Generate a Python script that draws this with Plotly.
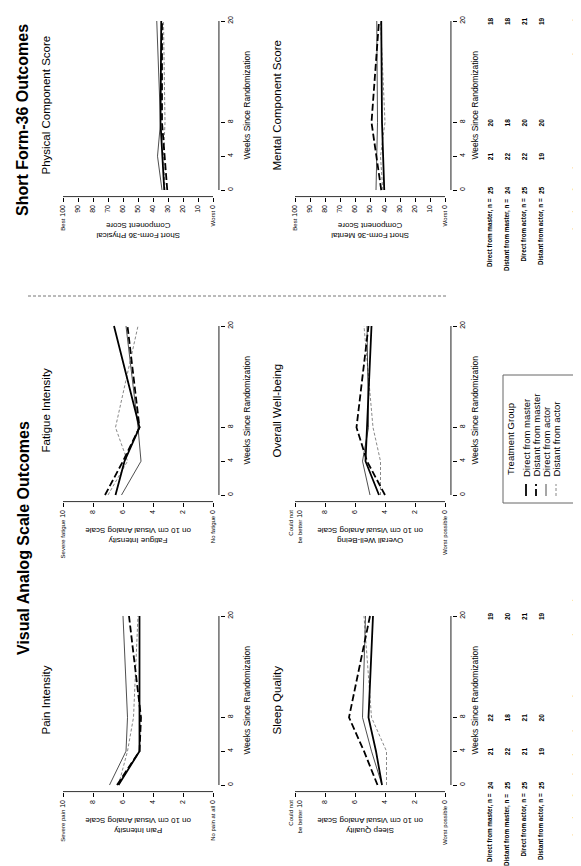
import plotly.graph_objects as go

W, H = 581, 866
FONT = "Liberation Sans, Arial, sans-serif"
NARROW = "Liberation Sans Narrow, Arial Narrow, Liberation Sans, sans-serif"

# ---------------- data ----------------
weeks = [0, 4, 8, 20]
group_names = ["Direct from master", "Distant from master", "Direct from actor", "Distant from actor"]

# scores per group (order of group_names), at weeks 0, 4, 8, 20
physical_scores = [[32.5, 34, 35, 34.5], [30.5, 32.5, 34, 34], [34, 37, 35, 37.5], [32, 33, 32, 33]]
mental_scores = [[40.5, 41.5, 42, 42.5], [42.5, 46, 49, 44], [46, 45.5, 45, 45.5], [41.5, 43, 40, 43]]
fatigue_scores = [[6.5, 5.9, 4.9, 6.6], [7.2, 6.0, 4.9, 5.7], [6.1, 4.8, 5.0, 5.8], [7.0, 5.7, 6.5, 5.0]]
wellbeing_scores = [[4.4, 5.3, 5.2, 4.9], [4.0, 5.2, 5.9, 5.1], [5.0, 5.5, 5.1, 5.2], [4.3, 4.3, 4.8, 5.4]]
pain_scores = [[6.3, 4.9, 4.9, 4.9], [6.4, 4.9, 4.8, 5.6], [6.9, 5.8, 5.7, 6.0], [6.3, 5.7, 5.3, 5.0]]
sleep_scores = [[4.2, 4.6, 5.1, 4.8], [4.5, 5.4, 6.4, 5.0], [4.2, 4.9, 5.5, 5.3], [3.9, 3.9, 4.9, 5.4]]

vas_n = [[24, 21, 22, 19], [25, 22, 18, 20], [25, 21, 21, 21], [25, 19, 20, 19]]
sf36_n = [[25, 21, 20, 18], [24, 22, 18, 18], [25, 22, 20, 21], [25, 19, 20, 19]]

sf_ticks = [100, 90, 80, 70, 60, 50, 40, 30, 20, 10, 0]
vas_ticks = [10, 8, 6, 4, 2, 0]

styles = [
    dict(color="black", width=1.8, dash="solid"),
    dict(color="black", width=1.8, dash="7px,3px"),
    dict(color="#222222", width=0.8, dash="solid"),
    dict(color="#6a6a6a", width=0.8, dash="3px,2px"),
]

def px(x):
    return x / W

def py(y):
    return 1 - y / H

def small(s):
    return "<span style='font-size:6px'>" + s + "</span>"

# column x extents (pixels) and row y extents (pixels)
cols = {"L": (48.25, 211.75), "R": (280.25, 443.75)}
rows = {"SF": (6.24, 189.2), "MID": (311.24, 494.2), "BOT": (601.24, 784.2)}
col_title_x = {"L": 38, "R": 269}
col_weeks_title_x = {"L": 239, "R": 467}

panels = [
    dict(title="Physical Component Score", ytitle="Short Form-36 Physical<br>Component Score",
         data=physical_scores, kind="sf", col="L", row="SF", top="Best", bottom="Worst"),
    dict(title="Mental Component Score", ytitle="Short Form-36 Mental<br>Component Score",
         data=mental_scores, kind="sf", col="R", row="SF", top="Best", bottom="Worst"),
    dict(title="Fatigue Intensity", ytitle="Fatigue Intensity<br>on 10 cm Visual Analog Scale",
         data=fatigue_scores, kind="vas", col="L", row="MID", top="Severe fatigue", bottom="No fatigue"),
    dict(title="Overall Well-being", ytitle="Overall Well-Being<br>on 10 cm Visual Analog Scale",
         data=wellbeing_scores, kind="vas", col="R", row="MID", top="Could not<br>be better", bottom="Worst possible"),
    dict(title="Pain Intensity", ytitle="Pain Intensity<br>on 10 cm Visual Analog Scale",
         data=pain_scores, kind="vas", col="L", row="BOT", top="Severe pain", bottom="No pain at all"),
    dict(title="Sleep Quality", ytitle="Sleep Quality<br>on 10 cm Visual Analog Scale",
         data=sleep_scores, kind="vas", col="R", row="BOT", top="Could not<br>be better", bottom="Worst possible"),
]

fig = go.Figure()
layout = dict(
    width=W, height=H, autosize=False,
    margin=dict(l=0, r=0, t=0, b=0),
    paper_bgcolor="white", plot_bgcolor="white",
    showlegend=False,
    font=dict(family=FONT, color="black"),
)
shapes = []
annotations = []

for i, p in enumerate(panels, start=1):
    xa = "x" if i == 1 else f"x{i}"
    ya = "y" if i == 1 else f"y{i}"
    xkey = "xaxis" if i == 1 else f"xaxis{i}"
    ykey = "yaxis" if i == 1 else f"yaxis{i}"
    x0p, x1p = cols[p["col"]]
    ytop, ybot = rows[p["row"]]
    if p["kind"] == "sf":
        ticks = sf_ticks
        smax, pad = 100, 4.5
        line_pad = 4
    else:
        ticks = vas_ticks
        smax, pad = 10, 0.45
        line_pad = 0.4
    ticktext = []
    for t in ticks:
        if t == smax:
            ticktext.append(small(p["top"]) + " " + str(t))
        elif t == 0:
            ticktext.append(small(p["bottom"]) + " " + str(t))
        else:
            ticktext.append(str(t))
    layout[xkey] = dict(
        domain=[px(x0p), px(x1p)], anchor=ya, range=[smax + pad, -pad],
        tickvals=ticks, ticktext=ticktext, tickangle=-90, ticks="outside", ticklen=4,
        tickwidth=1, tickcolor="black", tickfont=dict(size=7, family=FONT),
        showline=False, showgrid=False, zeroline=False, fixedrange=True,
    )
    layout[ykey] = dict(
        domain=[py(ybot), py(ytop)], anchor=xa, side="right", range=[-0.85, 20.8],
        tickvals=weeks, ticktext=[str(w) for w in weeks], tickangle=-90, ticks="outside",
        ticklen=4, tickwidth=1, tickcolor="black", tickfont=dict(size=7, family=FONT),
        showline=False, showgrid=False, zeroline=False, fixedrange=True,
    )
    # axis lines spanning the tick range only
    shapes.append(dict(type="line", xref=xa, yref=ya, x0=smax, x1=0, y0=-0.8, y1=-0.8,
                       line=dict(color="black", width=1)))
    shapes.append(dict(type="line", xref=xa, yref=ya, x0=-line_pad, x1=-line_pad, y0=0, y1=20,
                       line=dict(color="black", width=1)))
    # data lines (draw thin ones first)
    for g in [3, 2, 1, 0]:
        fig.add_trace(go.Scatter(
            x=p["data"][g], y=weeks, mode="lines", xaxis=xa, yaxis=ya,
            line=styles[g], name=group_names[g], hoverinfo="skip",
        ))
    # panel title
    annotations.append(dict(text=p["title"], xref="paper", yref=ya, x=px(col_title_x[p["col"]]), y=10,
                            textangle=-90, showarrow=False, xanchor="center", yanchor="middle",
                            font=dict(size=11.5, family=FONT)))
    # score axis title (upside down)
    annotations.append(dict(text=p["ytitle"], xref=xa, yref="paper", x=smax / 2, y=py(ybot + 34),
                            textangle=180, showarrow=False, xanchor="center", yanchor="middle",
                            align="center", font=dict(size=8, family=FONT)))
    # weeks title
    annotations.append(dict(text="Weeks Since Randomization", xref="paper", yref=ya,
                            x=px(col_weeks_title_x[p["col"]]), y=10, textangle=-90, showarrow=False,
                            xanchor="center", yanchor="middle", font=dict(size=8.5, family=FONT)))

# ---------------- main titles ----------------
annotations.append(dict(text="<b>Short Form-36 Outcomes</b>", xref="paper", yref="paper",
                        x=px(15), y=py(112), textangle=-90, showarrow=False,
                        xanchor="center", yanchor="middle", font=dict(size=16, family=FONT)))
annotations.append(dict(text="<b>Visual Analog Scale Outcomes</b>", xref="paper", yref="paper",
                        x=px(15), y=py(530), textangle=-90, showarrow=False,
                        xanchor="center", yanchor="middle", font=dict(size=16, family=FONT)))

# ---------------- sample size tables ----------------
table_x = [482, 499, 516, 533]

def add_table(counts, ya, title, title_y):
    for g, name in enumerate(group_names):
        annotations.append(dict(text="<b>" + name + ", n = </b>", xref="paper", yref=ya,
                                x=px(table_x[g]), y=weeks[0], yshift=-5, textangle=-90,
                                showarrow=False, xanchor="center", yanchor="top",
                                font=dict(size=6.3, family=NARROW)))
        for w, n in zip(weeks, counts[g]):
            annotations.append(dict(text="<b>" + str(n) + "</b>", xref="paper", yref=ya,
                                    x=px(table_x[g]), y=w, textangle=-90, showarrow=False,
                                    xanchor="center", yanchor="middle",
                                    font=dict(size=6.5, family=NARROW)))
    annotations.append(dict(text="<b>" + title + "</b>", xref="paper", yref="paper",
                            x=px(568), y=py(title_y), textangle=-90, showarrow=False,
                            xanchor="center", yanchor="middle", font=dict(size=9.8, family=FONT)))

add_table(sf36_n, "y2", "Sample Sizes for Short Form-36 Outcomes by Week", 128)
add_table(vas_n, "y6", "Sample Sizes for Visual Analog Scale Outcomes by Week", 722)

# ---------------- separator ----------------
shapes.append(dict(type="line", xref="paper", yref="paper", x0=px(20), x1=px(440), y0=py(288), y1=py(288),
                   line=dict(color="#777777", width=1, dash="3px,2px")))

# ---------------- legend (drawn manually, rotated) ----------------
shapes.append(dict(type="rect", xref="paper", yref="paper", x0=px(495), x1=px(575), y0=py(495), y1=py(367),
                   line=dict(color="#666666", width=1)))
annotations.append(dict(text="Treatment Group", xref="paper", yref="paper", x=px(503), y=py(431),
                        textangle=-90, showarrow=False, xanchor="center", yanchor="middle",
                        font=dict(size=9.5, family=FONT)))
legend_x = [518, 528, 538, 548]
for g, name in enumerate(group_names):
    shapes.append(dict(type="line", xref="paper", yref="paper", x0=px(legend_x[g]), x1=px(legend_x[g]),
                       y0=py(488), y1=py(476), line=styles[g]))
    annotations.append(dict(text=name, xref="paper", yref="paper", x=px(legend_x[g]), y=py(471),
                            textangle=-90, showarrow=False, xanchor="center", yanchor="bottom",
                            font=dict(size=9.5, family=FONT)))

layout["shapes"] = shapes
layout["annotations"] = annotations
fig.update_layout(**layout)
fig.write_html("out.html", config={"displayModeBar": False})
